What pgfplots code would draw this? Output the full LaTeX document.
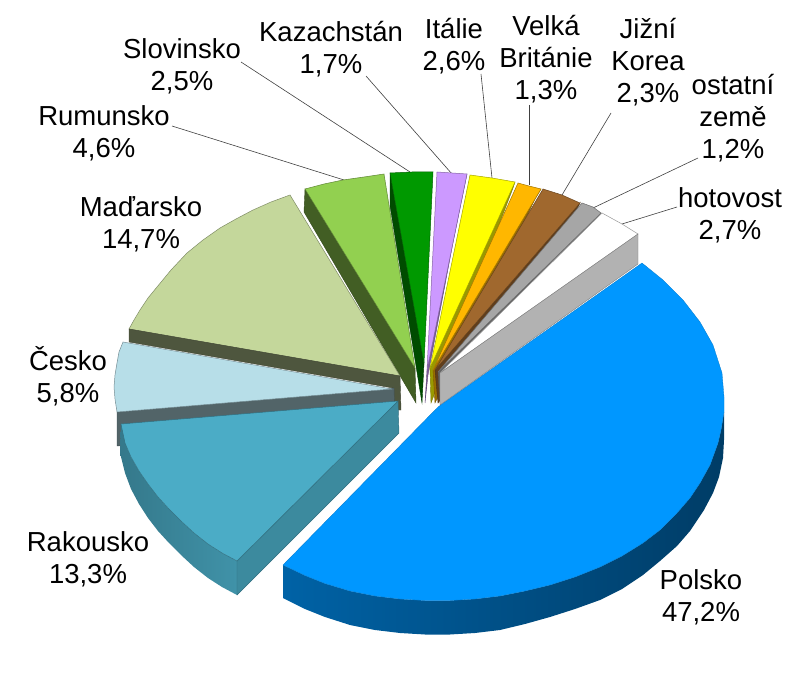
\documentclass[border=0pt]{standalone}
\usepackage{pgfplots}
\pgfplotsset{compat=1.18}
\usepackage{fontspec}
\setmainfont{Liberation Sans}
\definecolor{polsko}{HTML}{0097FF}
\definecolor{rakousko}{HTML}{4BACC6}
\definecolor{cesko}{HTML}{B7DEE8}
\definecolor{madarsko}{HTML}{C4D79B}
\definecolor{rumunsko}{HTML}{92D050}
\definecolor{slovinsko}{HTML}{009900}
\definecolor{kazach}{HTML}{CC99FF}
\definecolor{italie}{HTML}{FFFF00}
\definecolor{britanie}{HTML}{FFB700}
\definecolor{korea}{HTML}{A0682E}
\definecolor{ostatni}{HTML}{A6A6A6}
\definecolor{leader}{HTML}{404040}
\pgfplotsset{
    face/.style  = {fill=#1, draw=#1!65!black, line width=0.5pt},
    side/.style  = {fill=#1, draw=#1!80!black, line width=0.4pt},
    lead/.style  = {draw=leader, line width=0.6pt},
}
\begin{document}
\begin{tikzpicture}
    \begin{axis}[
        name             = pie,
        width            = 796pt,
        height           = 682pt,
        scale only axis,
        xmin             = 0,
        xmax             = 796,
        ymin             = 0,
        ymax             = 682,
        y dir            = reverse,
        hide axis,
        clip             = false,
        nodes            = {font=\fontsize{27.5}{32}\selectfont, align=center, text=black, inner sep=0pt}]

        % leader lines
        \addplot[lead] coordinates {(241,62) (410,172)};
        \addplot[lead] coordinates {(172,126) (344,180)};
        \addplot[lead] coordinates {(366,76) (452,174)};
        \addplot[lead] coordinates {(481,74) (492,178)};
        \addplot[lead] coordinates {(529,105) (529,185)};
        \addplot[lead] coordinates {(611,113) (562,195)};
        \addplot[lead] coordinates {(698,158) (593,208)};
        \addplot[lead] coordinates {(677,207) (622,224)};

        % Rumunsko
        \addplot[side={rumunsko!45!black}] coordinates {(305,189) (415,368) (416,403) (304,212)} -- cycle;
        \addplot[face=rumunsko] coordinates {(305,189) (324,184) (343,180) (364,177) (384,174) (415,368)} -- cycle;

        % Madarsko
        \addplot[face=madarsko] coordinates {(290,195) (271,202) (253,210) (236,219) (220,228) (203,240) (187,253) (171,270) (157,287) (148,298) (140,310) (134,320) (129,329) (400,376)} -- cycle;
        \addplot[side={madarsko!40!black}] coordinates {(129,329) (400,376) (401,410) (393,410) (393,388) (129,342)} -- cycle;

        % Cesko
        \addplot[side={cesko!45!black}] coordinates {(117,412) (394,388) (395,425) (117,446)} -- cycle;
        \addplot[face=cesko] coordinates {(123,342) (119,352) (117,363) (115,375) (114,387) (115,399) (117,412) (392,389)} -- cycle;

        % Rakousko
        \addplot[draw=none, shade, left color=rakousko!70!black, right color=rakousko!85!black]
            coordinates {(121,424) (120,453) (125,473) (131,489) (139,504) (148,518) (158,531) (169,543) (181,555) (194,567) (208,578) (222,587) (237,595)
                         (237,561) (222,553) (208,544) (194,533) (181,521) (169,509) (158,497) (148,484) (139,471) (131,457) (125,443)} -- cycle;
        \addplot[side={rakousko!80!black}] coordinates {(398,401) (399,433) (237,595) (237,561)} -- cycle;
        \addplot[face=rakousko] coordinates {(121,424) (125,443) (131,457) (139,471) (148,484) (158,497) (169,509) (181,521) (194,533) (208,544) (222,553) (237,561) (398,401)} -- cycle;

        % Slovinsko
        \addplot[side={slovinsko!50!black}] coordinates {(390,173) (424,363) (422,403) (390,206)} -- cycle;
        \addplot[face=slovinsko] coordinates {(390,173) (412,172) (433,172) (424,363)} -- cycle;

        % Kazachstan
        \addplot[side={kazach!60!black}] coordinates {(467,174) (464,184) (428,375) (425,403) (427,370)} -- cycle;
        \addplot[face=kazach] coordinates {(437,172) (452,173) (467,174) (427,370)} -- cycle;

        % Italie
        \addplot[side={italie!60!black}] coordinates {(515,182) (513,188) (431,403) (430,368)} -- cycle;
        \addplot[face=italie] coordinates {(470,175) (492,178) (515,182) (430,368)} -- cycle;

        % Velka Britanie
        \addplot[side={britanie!60!black}] coordinates {(541,189) (538,193) (435,403) (433,370)} -- cycle;
        \addplot[face=britanie] coordinates {(518,183) (529,186) (541,189) (433,370)} -- cycle;

        % Jizni Korea
        \addplot[side={korea!60!black}] coordinates {(580,203) (577,209) (438,403) (435,370)} -- cycle;
        \addplot[face=korea] coordinates {(543,189) (562,195) (580,203) (435,370)} -- cycle;

        % ostatni zeme
        \addplot[side={ostatni!60!black}] coordinates {(601,213) (597,218) (440,403) (438,372)} -- cycle;
        \addplot[face=ostatni] coordinates {(582,203) (593,207) (601,213) (438,372)} -- cycle;

        % hotovost
        \addplot[fill=white, draw=black!40, line width=0.5pt] coordinates {(602,213) (622,224) (638,234) (440,373)} -- cycle;
        \addplot[fill=black!30, draw=black!50, line width=0.4pt] coordinates {(638,234) (638,264) (440,405) (440,373)} -- cycle;

        % Polsko
        \addplot[draw=none, shade, left color=polsko!65!black, middle color=polsko!35!black, right color=polsko!40!black]
            coordinates {(283,565) (283,598) (305,609) (325,617) (350,625) (375,630) (400,633) (425,634.5) (450,634.5) (475,633) (500,630) (525,624) (550,617) (575,609) (600,600) (622,589) (643,575) (660,561) (677,546) (690,531) (704,510) (713,493) (719,477) (723,458) (724,440) (724,412)
                         (721,430) (718,443) (710,465) (700,483) (690,498) (677,513) (660,530) (643,543) (622,556) (600,567) (575,577) (550,585) (525,591) (500,596) (475,599) (450,600.5) (425,600.5) (400,599) (375,596) (350,591) (325,583.5) (305,575.5)} -- cycle;
        \addplot[fill=polsko, draw=polsko!80!black, line width=0.3pt]
            coordinates {(642,263) (663,280) (683,300) (700,322) (713,345) (722,373) (724,397) (724,412) (721,430) (718,443) (710,465) (700,483) (690,498) (677,513) (660,530) (643,543) (622,556) (600,567) (575,577) (550,585) (525,591) (500,596) (475,599) (450,600.5) (425,600.5) (400,599) (375,596) (350,591) (325,583.5) (305,575.5) (283,565) (438,407)} -- cycle;

        % labels
        \node at (axis cs:182,66)  {Slovinsko\\2,5\%};
        \node at (axis cs:331,49)  {Kazachstán\\1,7\%};
        \node at (axis cs:454,46)  {Itálie\\2,6\%};
        \node at (axis cs:546,59)  {Velká\\Británie\\1,3\%};
        \node at (axis cs:648,62)  {Jižní\\Korea\\2,3\%};
        \node at (axis cs:733,118) {ostatní\\země\\1,2\%};
        \node at (axis cs:730,215) {hotovost\\2,7\%};
        \node at (axis cs:104,133) {Rumunsko\\4,6\%};
        \node at (axis cs:141,224) {Maďarsko\\14,7\%};
        \node at (axis cs:68,376)  {Česko\\5,8\%};
        \node at (axis cs:88,559)  {Rakousko\\13,3\%};
        \node at (axis cs:701,597) {Polsko\\47,2\%};
    \end{axis}
    \path (pie.south west) rectangle (pie.north east);
\end{tikzpicture}
\end{document}
